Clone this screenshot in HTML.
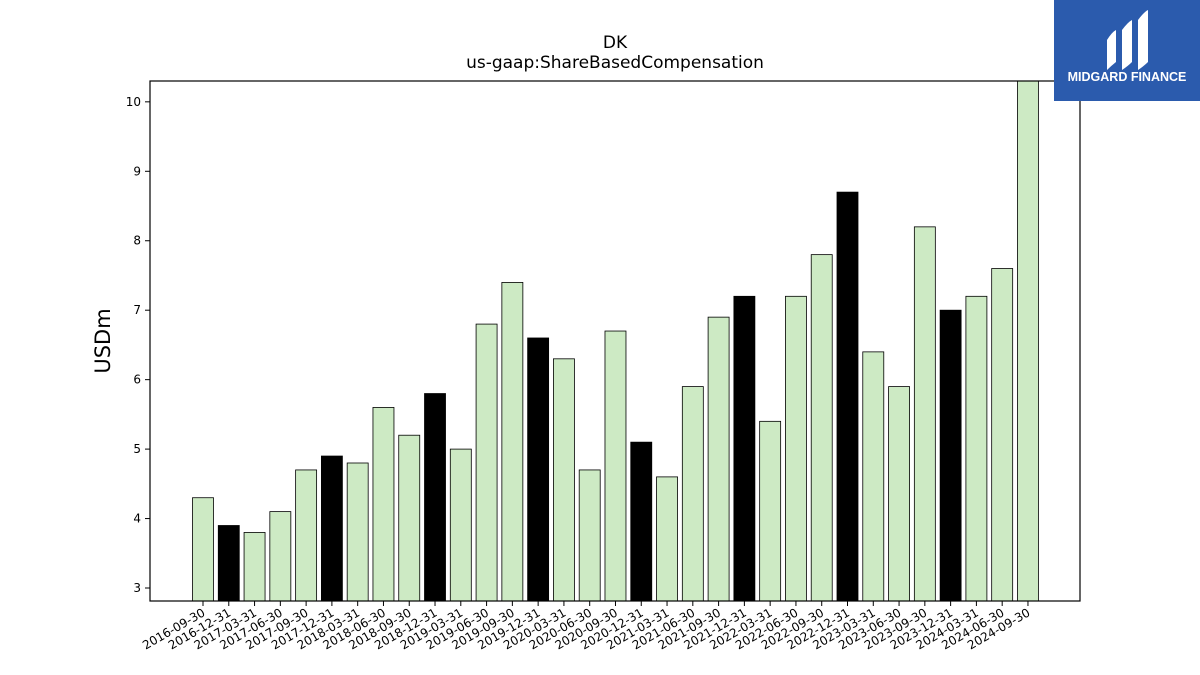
<!DOCTYPE html>
<html><head><meta charset="utf-8"><style>
body{margin:0;background:#fff;font-family:"Liberation Sans","DejaVu Sans",sans-serif}
</style></head><body>
<svg id="c" width="1200" height="675" xmlns="http://www.w3.org/2000/svg" style="display:block">
<text x="615" y="48" font-size="17" text-anchor="middle" font-family="DejaVu Sans, sans-serif">DK</text>
<text x="615" y="68" font-size="17" text-anchor="middle" font-family="DejaVu Sans, sans-serif">us-gaap:ShareBasedCompensation</text>
<text x="110" y="341" font-size="21" text-anchor="middle" transform="rotate(-90 110 341)" font-family="DejaVu Sans, sans-serif">USDm</text>
<g id="bars"></g><g id="axes"></g>
<g>
<rect x="1054" y="0" width="146" height="101" fill="#2b5bad"/>
<path d="M1107 40 Q1112 32 1116 30 L1116 62 Q1111 66 1107 70 Z" fill="#fff"/>
<path d="M1122 30 Q1128 22 1132 20 L1132 62 Q1128 66 1122 70 Z" fill="#fff"/>
<path d="M1138 20 Q1144 12 1148 10 L1148 62 Q1144 66 1138 70 Z" fill="#fff"/>
<text x="1127" y="81" font-size="12.5" font-weight="bold" fill="#fff" text-anchor="middle">MIDGARD FINANCE</text>
</g>
</svg>
<script>
const categories=["2016-09-30","2016-12-31","2017-03-31","2017-06-30","2017-09-30","2017-12-31","2018-03-31","2018-06-30","2018-09-30","2018-12-31","2019-03-31","2019-06-30","2019-09-30","2019-12-31","2020-03-31","2020-06-30","2020-09-30","2020-12-31","2021-03-31","2021-06-30","2021-09-30","2021-12-31","2022-03-31","2022-06-30","2022-09-30","2022-12-31","2023-03-31","2023-06-30","2023-09-30","2023-12-31","2024-03-31","2024-06-30","2024-09-30"];
const values=[4.3,3.9,3.8,4.1,4.7,4.9,4.8,5.6,5.2,5.8,5.0,6.8,7.4,6.6,6.3,4.7,6.7,5.1,4.6,5.9,6.9,7.2,5.4,7.2,7.8,8.7,6.4,5.9,8.2,7.0,7.2,7.6,10.3];
const yTicks=[3,4,5,6,7,8,9,10];
const NS="http://www.w3.org/2000/svg";
const L=150,R=1080,T=81,B=601,yMin=2.813,yMax=10.30;
const y=v=>B-(v-yMin)/(yMax-yMin)*(B-T);
const step=25.78,x0=203;
const x=i=>x0+i*step;
const bars=document.getElementById('bars'),axes=document.getElementById('axes');
function mk(t,a,p){const e=document.createElementNS(NS,t);for(const k in a)e.setAttribute(k,a[k]);p.appendChild(e);return e;}
values.forEach((v,i)=>{
 const dec=categories[i].endsWith("12-31");
 const r=mk('rect',{x:x(i)-10.5,y:y(v),width:21,height:B-y(v),fill:dec?'#000':'#cdeac4',stroke:'#000','stroke-width':0.8},bars);
 
 
 mk('line',{x1:x(i),x2:x(i),y1:B,y2:B+5,stroke:'#000'},axes);
 const t=mk('text',{x:x(i)+3,y:B+14,'font-size':12,'text-anchor':'end',transform:`rotate(-30 ${x(i)+3} ${B+14})`,'font-family':'DejaVu Sans, sans-serif'},axes);
 t.textContent=categories[i];
 
 
});
yTicks.forEach(v=>{
 mk('line',{x1:L-5,x2:L,y1:y(v),y2:y(v),stroke:'#000'},axes);
 const t=mk('text',{x:L-9,y:y(v)+4,'font-size':12,'text-anchor':'end','font-family':'DejaVu Sans, sans-serif'},axes);
 t.textContent=v;
 
 
});
const f=mk('rect',{x:L,y:T,width:R-L,height:B-T,fill:'none',stroke:'#000','stroke-width':1.2},axes);


</script>
</body></html>
